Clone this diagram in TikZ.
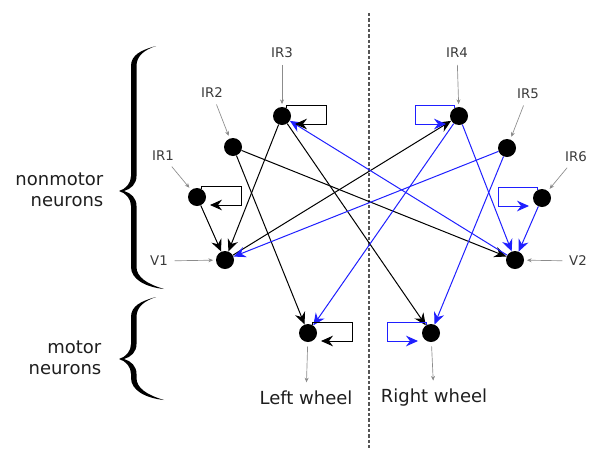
\documentclass[tikz,border=0pt]{standalone}
\usepackage{fontspec}
\setmainfont{DejaVu Sans}
\usetikzlibrary{arrows.meta,calc}
\definecolor{Ink}{HTML}{1E1E1E}
\definecolor{Tag}{HTML}{3A3A3A}
\definecolor{Feed}{HTML}{8C8C8C}
\definecolor{Syn}{HTML}{1F1FFF}
\definecolor{Split}{HTML}{555555}

\tikzset{
  neuron/.style={circle,fill=black,minimum size=13.5pt,inner sep=0pt},
  tag/.style={font=\fontsize{10}{12}\selectfont,text=Tag,inner sep=1pt},
  caption/.style={font=\fontsize{13.5}{16}\selectfont,text=Ink,align=right},
  feed/.style={draw=Feed,line width=0.5pt,-{Stealth[length=3.5pt,width=3pt,fill=Tag]},
    shorten <=4pt,shorten >=2pt},
  syn/.style={line width=0.75pt,-{Stealth[length=9pt,width=8pt,inset=3pt]}},
}

\begin{document}
\begin{tikzpicture}[x=0.75pt,y=-0.75pt]
  \useasboundingbox (0,0) rectangle (605,450);

  % split between left and right half
  \draw[Split,line width=0.9pt,dash pattern=on 2.4pt off 1.6pt] (369,13) -- (369,450);

  % neurons
  \foreach \name/\x/\y in {ir1/197/197, ir2/233/147, ir3/282/116,
      ir4/459/116, ir5/507/148, ir6/542/198,
      v1/225/260, v2/515/260, ml/308/333, mr/431/333}{
    \node[neuron] (\name) at (\x,\y) {};
  }

  % sensor inputs
  \foreach \name/\txt/\x/\y in {ir1/IR1/163/156, ir2/IR2/212/93, ir3/IR3/282/53,
      ir4/IR4/457/53, ir5/IR5/528/94, ir6/IR6/576/157,
      v1/V1/159/261, v2/V2/578/261}{
    \node[tag] (l\name) at (\x,\y) {\txt};
    \draw[feed] (l\name) -- (\name);
  }

  % wheels
  \node[caption] (lwheel) at (306,398) {Left wheel};
  \node[caption] (rwheel) at (434,398) {Right wheel};
  \draw[feed,shorten <=3pt,shorten >=3pt] (ml) -- (lwheel);
  \draw[feed,shorten <=3pt,shorten >=3pt] (mr) -- (rwheel);

  % crossed connections
  \foreach \a/\b in {ir1/v1, ir3/v1, ir2/ml, ir2/v2, ir3/mr, v1/ir4}
    \draw[syn,black] (\a) -- (\b);
  \foreach \a/\b in {ir4/v2, ir4/ml, ir5/v1, ir5/mr, ir6/v2, v2/ir3}
    \draw[syn,Syn] (\a) -- (\b);

  % self loops, s gives the side
  \foreach \n/\s/\col in {ir1/1/black, ir3/1/black, ml/1/black,
      ir4/-1/Syn, ir6/-1/Syn, mr/-1/Syn}{
    \draw[syn,\col,line join=miter] ($(\n)+(\s*4.5,-7.8)$) |- ($(\n)+(\s*44,-11)$)
      |- ($(\n)+(\s*13,8)$);
  }

  % braces
  \foreach \ya/\yt/\yb in {46/191/289, 297/359/400}{
    \fill[black] (156,\ya) .. controls (141,\ya+4) and (131,\ya+9) .. (131,\ya+20)
      -- (131,\yt-15) .. controls (131,\yt-8) and (126,\yt-2) .. (119,\yt)
      .. controls (126,\yt+2) and (131,\yt+8) .. (131,\yt+15)
      -- (131,\yb-22) .. controls (131,\yb-10) and (145,\yb-2) .. (164,\yb)
      .. controls (147,\yb-5) and (136.5,\yb-12) .. (136.5,\yb-22)
      -- (136.5,\yt+15) .. controls (136.5,\yt+7) and (131,\yt+2) .. (124,\yt)
      .. controls (131,\yt-2) and (136.5,\yt-7) .. (136.5,\yt-15)
      -- (136.5,\ya+20) .. controls (136.5,\ya+10) and (144,\ya+4) .. (156,\ya) -- cycle;
  }
  \node[caption,anchor=east] (upper) at (108,190) {nonmotor\\neurons};
  \node[caption,anchor=east] (lower) at (106,358) {motor\\neurons};
\end{tikzpicture}
\end{document}
